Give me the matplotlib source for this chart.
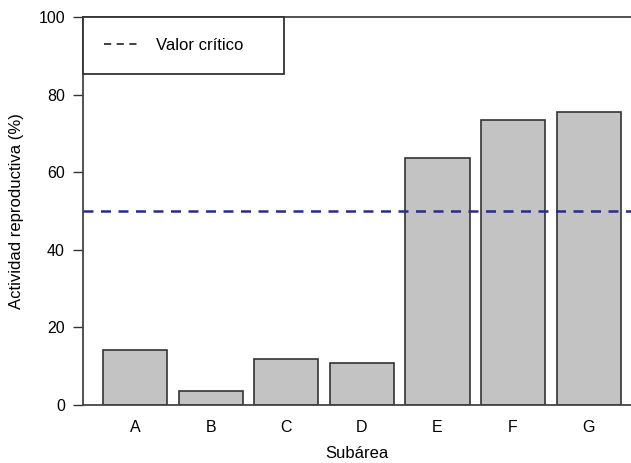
import numpy as np
from matplotlib import pyplot as plt
from matplotlib.lines import Line2D

subareas = ["A", "B", "C", "D", "E", "F", "G"]
actividad = [14.2, 3.6, 11.8, 10.8, 63.6, 73.5, 75.5]
valor_critico = 50
y_ticks = [0, 20, 40, 60, 80, 100]

plt.rcParams['font.family'] = ['Liberation Sans', 'DejaVu Sans']

fig = plt.figure(figsize=(6.31, 4.63), dpi=100)
ax = fig.add_axes([83 / 631, 58 / 463, 548 / 631, 388 / 463])

x = np.arange(len(subareas))
ax.bar(x, actividad, width=0.85, color="#c3c3c3", edgecolor="#333333", linewidth=1.2, zorder=2)
ax.axhline(valor_critico, color="#2b2b8c", linestyle=(0, (4, 3)), linewidth=1.8, zorder=3)

ax.set_xlim(-0.69, 6.56)
ax.set_ylim(0, 100)
ax.set_xticks(x)
ax.set_xticklabels(subareas, fontsize=11.5)
ax.set_yticks(y_ticks)
ax.set_yticklabels([str(t) for t in y_ticks], fontsize=11.5)
ax.tick_params(axis="y", direction="out", length=7, width=1, color="#333333", pad=6)
ax.tick_params(axis="x", length=0, pad=11)

for side in ["left", "bottom", "top"]:
    ax.spines[side].set_color("#444444")
    ax.spines[side].set_linewidth(1.3)
ax.spines["right"].set_visible(False)

ax.set_xlabel("Subárea", fontsize=12, labelpad=8)
ax.set_ylabel("Actividad reproductiva (%)", fontsize=12, labelpad=10)

handle = Line2D([], [], color="#333333", linestyle=(0, (4, 3)), linewidth=1.3)
leg = ax.legend([handle], ["Valor crítico"], loc="upper left",
                bbox_to_anchor=(0, 0.856, 0.366, 0.144), mode="expand",
                borderaxespad=0, borderpad=1.25, handlelength=2.0, handletextpad=1.1,
                fancybox=False, fontsize=12)
leg.get_frame().set_edgecolor("#333333")
leg.get_frame().set_linewidth(1.3)
leg.get_frame().set_alpha(1)

fig.savefig("out.png", dpi=100)
